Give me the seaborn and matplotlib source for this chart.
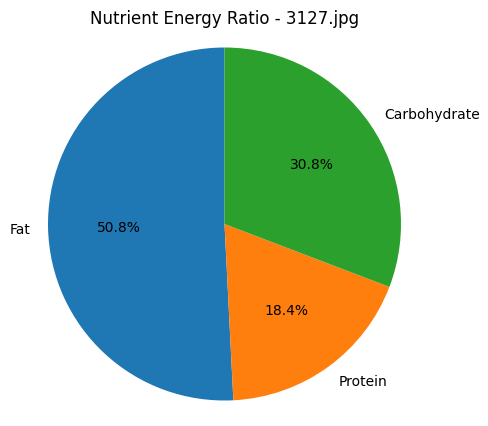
import numpy as np
import seaborn as sns
import matplotlib.pyplot as plt

labels = ['Fat', 'Protein', 'Carbohydrate']
values = [50.8, 18.4, 30.8]

colors = sns.color_palette('tab10', 3)

W, H = 489, 427
fig = plt.figure(figsize=(W / 100, H / 100), dpi=100)

# pie centre at (224.5, 224.5) px from top-left, radius ~176.5 px
r = 176.5
cx, cy = 224.5, H - 225
half = 1.25 * r
ax = fig.add_axes([(cx - half) / W, (cy - half) / H, 2 * half / W, 2 * half / H])

ax.pie(values, labels=labels, colors=colors, autopct='%1.1f%%', startangle=90)
ax.set_xlim(-1.25, 1.25)
ax.set_ylim(-1.25, 1.25)
ax.set_aspect('auto')

fig.text(cx / W, 1 - 19 / H, 'Nutrient Energy Ratio - 3127.jpg',
         ha='center', va='center', fontsize=12)

fig.savefig('out.png', dpi=100)
